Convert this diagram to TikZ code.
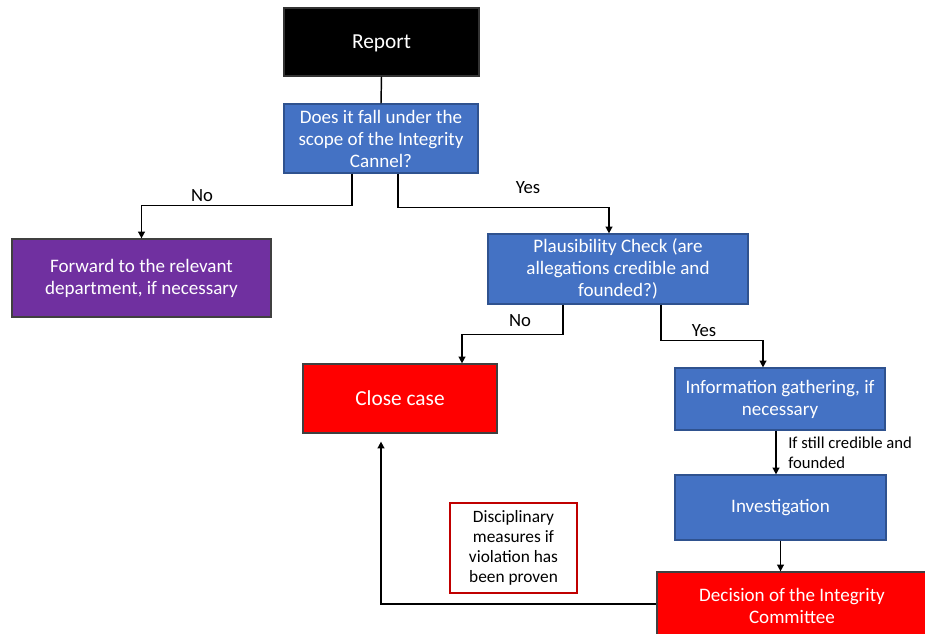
\documentclass[tikz,border=0pt]{standalone}
\usepackage{fontspec}
\setmainfont{Carlito}
\usetikzlibrary{calc,arrows.meta}
\definecolor{boxblue}{HTML}{4472C4}
\definecolor{boxedge}{HTML}{2F528F}
\definecolor{boxpurple}{HTML}{7030A0}
\definecolor{boxred}{HTML}{FF0000}
\definecolor{darkred}{HTML}{C00000}
\tikzset{
  flowbox/.style={draw=boxedge, line width=0.9pt, text=white, align=center, inner sep=0pt,
    font=\fontsize{14.3}{16.5}\selectfont},
  bluebox/.style={flowbox, fill=boxblue},
  redbox/.style={flowbox, fill=boxred, draw=black!75},
  link/.style={line width=1.1pt, draw=black},
  arrow/.style={link, -{Triangle[width=5pt,length=5pt]}},
  answer/.style={font=\fontsize{14}{16}\selectfont},
}
\begin{document}
\begin{tikzpicture}[x=0.75pt, y=-0.75pt]
		%%%%% START %%%%%
		\useasboundingbox (0,0) rectangle (925,634);
		
		\node[flowbox, fill=black, draw=black!80, minimum width=146.25pt, minimum height=51pt, text depth=0pt,
		  font=\fontsize{16}{19}\selectfont] (report) at (381.5,42) {Report};
		\node[bluebox, minimum width=145.5pt, minimum height=51.75pt] (scope) at (381,138.5)
		  {Does it fall under the\\scope of the Integrity\\Cannel?};
		\node[flowbox, fill=boxpurple, draw=black!75, minimum width=194.25pt, minimum height=58.5pt] (forward) at (141.5,278)
		  {Forward to the relevant\\department, if necessary};
		\node[bluebox, minimum width=195pt, minimum height=52.5pt] (plausible) at (618,269)
		  {Plausibility Check (are\\allegations credible and\\founded?)};
		\node[redbox, minimum width=145.5pt, minimum height=51.75pt, font=\fontsize{16}{19}\selectfont] (close) at (400,398.5) {Close case};
		\node[bluebox, minimum width=157.5pt, minimum height=46.5pt] (gather) at (780,399)
		  {Information gathering, if\\necessary};
		\node[bluebox, minimum width=158.25pt, minimum height=48.75pt] (investigate) at (780.5,507.5) {Investigation};
		\node[redbox, minimum width=202.5pt, minimum height=51pt] (decision) at (792,606)
		  {Decision of the Integrity\\Committee};
		\node[draw=darkred, line width=1.5pt, fill=white, align=center, inner sep=0pt,
		  minimum width=95.25pt, minimum height=67.5pt, font=\fontsize{13}{15}\selectfont] (measures) at (513.5,548)
		  {Disciplinary\\measures if\\violation has\\been proven};
		
		% connectors
		\draw[link] (report.south) -- (scope.north);
		\draw[arrow] ($(scope.south)+(-29,0)$) -- ++(0,32) -| (forward.north);
		\draw[arrow] ($(scope.south)+(17,0)$) -- ++(0,34) -| ($(plausible.north)+(-9,0)$);
		\draw[arrow] ($(plausible.south)+(-55,0)$) -- ++(0,30) -| ($(close.north)+(62,0)$);
		\draw[arrow] ($(plausible.south)+(43,0)$) -- ++(0,36) -| ($(gather.north)+(-17,0)$);
		\coordinate (gatherout) at ($(gather.south)+(-4,0)$);
		\draw[arrow] (gatherout) -- (gatherout |- investigate.north);
		\draw[arrow] (investigate.south) -- (investigate.south |- decision.north);
		\coordinate (back) at ($(decision.west)+(0,-2)$);
		\draw[arrow] (back) -| ($(close.south)+(-19,8)$);
		
		% labels
		\node[answer] (no1) at (202,196) {No};
		\node[answer] (yes1) at (528,188) {Yes};
		\node[answer] (no2) at (520,321) {No};
		\node[answer] (yes2) at (704,331) {Yes};
		\node[anchor=west, align=left, inner sep=0pt, font=\fontsize{12.5}{15}\selectfont] (still) at (788,453)
		  {If still credible and\\founded};
		
		%%%%% END %%%%%
	\end{tikzpicture}
\end{document}
